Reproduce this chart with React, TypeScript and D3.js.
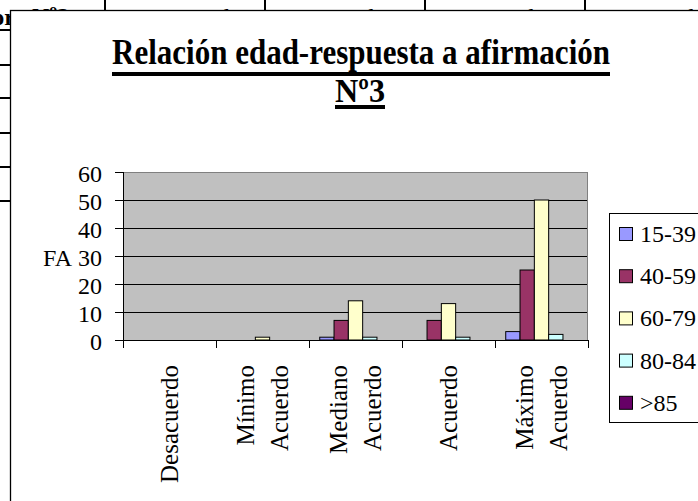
import React from "react";
import * as d3 from "d3";

const categoryLines: string[][] = [
  ["Desacuerdo"],
  ["Mínimo", "Acuerdo"],
  ["Mediano", "Acuerdo"],
  ["Acuerdo"],
  ["Máximo", "Acuerdo"],
];
const categories = ["Desacuerdo", "Mínimo Acuerdo", "Mediano Acuerdo", "Acuerdo", "Máximo Acuerdo"];
const seriesNames = ["15-39", "40-59", "60-79", "80-84", ">85"];
const values1539 = [0, 0, 1, 0, 3];
const values4059 = [0, 0, 7, 7, 25];
const values6079 = [0, 1, 14, 13, 50];
const values8084 = [0, 0, 1, 1, 2];
const values85 = [0, 0, 0, 0, 0];
const seriesColors = ["#9999FF", "#993366", "#FFFFCC", "#CCFFFF", "#660066"];
const yTicks = [0, 10, 20, 30, 40, 50, 60];
const titleLine1 = "Relación edad-respuesta a afirmación";
const titleLine2 = "Nº3";
const yAxisLabel = "FA";
const headerCells = ["Desacuerdo", "Acuerdo", "Acuerdo", "Acuerdo"];
const headerLeft = "Valor";
const headerNum = "Nº2";

const FONT = '"Liberation Serif", "Times New Roman", Times, serif';

export default function App() {
  const seriesValues = [values1539, values4059, values6079, values8084, values85];
  const plotL = 123, plotR = 588, plotT = 172, plotB = 340;
  const x = d3.scaleBand<string>().domain(categories).range([plotL, plotR]).padding(0);
  const xs = d3
    .scaleBand<string>()
    .domain(seriesNames)
    .range([0, x.bandwidth()])
    .paddingInner(0)
    .paddingOuter(0.75);
  const y = d3.scaleLinear().domain([0, 60]).range([plotB, plotT]);
  const crisp = (v: number) => Math.round(v) + 0.5;

  const boundaries = categories.map((c) => x(c) as number).concat([plotR]);
  const legendY0 = 234;
  const legendStep = 42.2;

  const headerXs = [105, 265, 425, 585];

  return (
    <svg
      width={698}
      height={501}
      style={{ position: "absolute", left: 0, top: 0, background: "#fff", fontFamily: FONT }}
    >
      {/* background table remnants */}
      <g>
        {[30, 65, 98, 133, 167, 201].map((yy, i) => (
          <rect key={i} x={0} y={yy - 1} width={11} height={2} fill="#000" />
        ))}
        {headerXs.map((xx, i) => (
          <rect key={i} x={xx - 1} y={0} width={2} height={11} fill="#000" />
        ))}
        <text x={15} y={25} textAnchor="end" fontSize={24} fontWeight="bold">
          {headerLeft}
        </text>
        <text x={32} y={24} fontSize={24} fontWeight="bold">
          {headerNum}
        </text>
        {headerCells.map((t, i) => (
          <text key={i} x={headerXs[i] + 80} y={25} textAnchor="middle" fontSize={24}>
            {t}
          </text>
        ))}
      </g>
      {/* chart area */}
      <rect x={10.5} y={10.5} width={720} height={520} fill="#fff" stroke="#000" strokeWidth={1.3} />

      {/* title */}
      <text x={361} y={64} textAnchor="middle" fontSize={36} fontWeight="bold" textLength={498} lengthAdjust="spacingAndGlyphs">
        {titleLine1}
      </text>
      <rect x={112} y={72} width={498} height={4} fill="#000" />
      <text x={360} y={102} textAnchor="middle" fontSize={34} fontWeight="bold" textLength={50} lengthAdjust="spacingAndGlyphs">
        {titleLine2}
      </text>
      <rect x={335} y={105} width={50} height={4} fill="#000" />

      {/* plot area */}
      <rect x={plotL} y={plotT} width={plotR - plotL} height={plotB - plotT} fill="#C0C0C0" />
      {yTicks.filter((t) => t > 0).map((t) => (
        <line key={t} x1={plotL} x2={plotR} y1={crisp(y(t))} y2={crisp(y(t))} stroke="#000" strokeWidth={1} />
      ))}
      <line x1={plotR - 0.5} x2={plotR - 0.5} y1={plotT} y2={plotB} stroke="#808080" strokeWidth={1} />
      <line x1={plotL} x2={plotR} y1={plotT + 0.5} y2={plotT + 0.5} stroke="#808080" strokeWidth={1} />

      {/* bars */}
      {seriesValues.map((vals, si) => (
        <g key={si}>
          {vals.map((v, ci) => {
            if (v <= 0) return null;
            const bx = (x(categories[ci]) as number) + (xs(seriesNames[si]) as number);
            const by = y(v);
            return (
              <rect
                key={ci}
                x={bx}
                y={by}
                width={xs.bandwidth()}
                height={plotB - by}
                fill={seriesColors[si]}
                stroke="#000"
                strokeWidth={1}
              />
            );
          })}
        </g>
      ))}

      {/* axes */}
      <line x1={plotL + 0.5} x2={plotL + 0.5} y1={plotT} y2={plotB} stroke="#000" strokeWidth={1} />
      <line x1={plotL - 8} x2={plotR} y1={crisp(plotB)} y2={crisp(plotB)} stroke="#000" strokeWidth={1} />
      {yTicks.map((t) => (
        <g key={t}>
          <line x1={plotL - 8} x2={plotL} y1={crisp(y(t))} y2={crisp(y(t))} stroke="#000" strokeWidth={1} />
          <text x={102} y={y(t) + 10} textAnchor="end" fontSize={24}>
            {t}
          </text>
        </g>
      ))}
      <text x={72} y={y(30) + 10} textAnchor="end" fontSize={24}>
        {yAxisLabel}
      </text>
      {boundaries.map((b, i) => (
        <line key={i} x1={crisp(b)} x2={crisp(b)} y1={plotB} y2={plotB + 8} stroke="#000" strokeWidth={1} />
      ))}
      {categoryLines.map((lines, ci) => {
        const cx = (x(categories[ci]) as number) + x.bandwidth() / 2;
        const n = lines.length;
        return lines.map((ln, li) => {
          const off = (li - (n - 1) / 2) * 34;
          return (
            <text
              key={ci + "-" + li}
              transform={`translate(${cx + off},365) rotate(-90)`}
              textAnchor="end"
              dominantBaseline="central"
              fontSize={25}
            >
              {ln}
            </text>
          );
        });
      })}

      {/* legend */}
      <rect x={609.5} y={213.5} width={120} height={209} fill="#fff" stroke="#000" strokeWidth={1} />
      {seriesNames.map((s, i) => {
        const cy = legendY0 + i * legendStep;
        return (
          <g key={s}>
            <rect x={619.5} y={cy - 6.5} width={13} height={13} fill={seriesColors[i]} stroke="#000" strokeWidth={1} />
            <text x={640} y={cy + 8} fontSize={24}>
              {s}
            </text>
          </g>
        );
      })}
    </svg>
  );
}
